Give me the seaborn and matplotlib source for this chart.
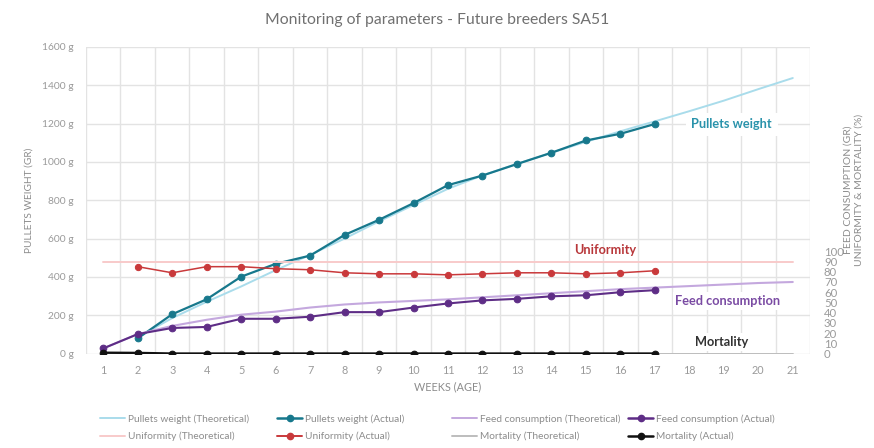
import numpy as np
import matplotlib
matplotlib.use("Agg")
import matplotlib.pyplot as plt
from matplotlib.lines import Line2D
import seaborn as sns

# ---------------------------------------------------------------
# Data
# ---------------------------------------------------------------
weeks_all = list(range(1, 22))
weeks_pullets = list(range(2, 22))
weeks_actual_pullets = list(range(2, 18))
weeks_actual = list(range(1, 18))
weeks_uniformity = list(range(2, 18))

pullets_theoretical = [85, 185, 270, 350, 435, 515, 600, 690, 775, 860, 930, 990,
                       1048, 1105, 1160, 1212, 1265, 1320, 1380, 1438]
pullets_actual = [79, 205, 283, 401, 468, 511, 619, 698, 785, 879, 929, 989,
                  1048, 1112, 1147, 1198]

uniformity_theoretical = [90] * 21
uniformity_actual = [85, 79, 85, 85, 83, 82, 79, 78, 78, 77, 78, 79, 79, 78, 79, 81]

feed_theoretical = [5, 19, 27, 33, 38, 41, 45, 48, 50, 51.5, 53, 55, 57, 59, 61,
                    63, 64.5, 66, 67.5, 69, 70]
feed_actual = [5, 19, 25, 26, 34, 34, 36, 40.5, 40.5, 45, 49, 52, 53.5, 56, 57,
               60, 62]

mortality_theoretical = [0] * 21
mortality_actual = [0.8, 0.6] + [0] * 15

weight_ticks = list(range(0, 1601, 200))
pct_ticks = list(range(0, 101, 10))

# colours
c_pul_t, c_pul_a = "#a9dceb", "#17788c"
c_uni_t, c_uni_a = "#f8caca", "#c9393b"
c_feed_t, c_feed_a = "#c4a8de", "#5e2d86"
c_mor_t, c_mor_a = "#bdbdbd", "#111111"
grey_txt = "#9a9a9a"

sns.set_style("white")
plt.rcParams["font.family"] = ["Lato", "DejaVu Sans"]

fig = plt.figure(figsize=(8.74, 4.48), dpi=100)
ax = fig.add_axes([0.0984, 0.2109, 0.8284, 0.6842])
ax2 = ax.twinx()

ms = 4.8

# --- pullets weight on the left axis
sns.lineplot(x=weeks_pullets, y=pullets_theoretical, ax=ax, color=c_pul_t,
             linewidth=1.4, zorder=3)
sns.lineplot(x=weeks_actual_pullets, y=pullets_actual, ax=ax, color=c_pul_a,
             linewidth=1.6, marker="o", markersize=ms, markeredgecolor=c_pul_a,
             zorder=4)

# --- the rest on the right axis
sns.lineplot(x=weeks_all, y=uniformity_theoretical, ax=ax2, color=c_uni_t,
             linewidth=1.4)
sns.lineplot(x=weeks_uniformity, y=uniformity_actual, ax=ax2, color=c_uni_a,
             linewidth=1.1, marker="o", markersize=4.5, markeredgecolor=c_uni_a)
sns.lineplot(x=weeks_all, y=feed_theoretical, ax=ax2, color=c_feed_t,
             linewidth=1.5)
sns.lineplot(x=weeks_actual, y=feed_actual, ax=ax2, color=c_feed_a,
             linewidth=1.5, marker="o", markersize=ms, markeredgecolor=c_feed_a)
sns.lineplot(x=weeks_all, y=mortality_theoretical, ax=ax2, color=c_mor_t,
             linewidth=1.4)
sns.lineplot(x=weeks_actual, y=mortality_actual, ax=ax2, color=c_mor_a,
             linewidth=1.7, marker="o", markersize=ms, markeredgecolor=c_mor_a)

# --- axes setup
ax.set_xlim(0.5, 21.5)
ax.set_ylim(0, 1600)
ax.set_yticks(weight_ticks)
ax.set_yticklabels([f"{v} g" for v in weight_ticks])
ax.set_xticks(weeks_all)
ax.set_xticks(np.arange(0.5, 22, 1), minor=True)
ax.grid(axis="y", which="major", color="#e3e3e3", linewidth=1)
ax.grid(axis="x", which="minor", color="#e3e3e3", linewidth=1)
ax.grid(axis="x", which="major", visible=False)
ax.tick_params(axis="both", which="both", length=0, colors=grey_txt, labelsize=7.8)
ax.tick_params(axis="y", pad=9, labelsize=7.4)
ax.tick_params(axis="x", pad=8)

ax2.set_ylim(0, 300)
ax2.set_yticks(pct_ticks)
ax2.tick_params(axis="y", length=0, colors=grey_txt, labelsize=8.2, pad=10)
ax2.grid(False)

for a in (ax, ax2):
    for s in a.spines.values():
        s.set_visible(False)

ax.set_xlabel("WEEKS (AGE)", color="#8c8c8c", fontsize=7.8, labelpad=4)
ax.set_ylabel("PULLETS WEIGHT (GR)", color="#8c8c8c", fontsize=7.3, labelpad=6)
ax2.set_ylabel("")
fig.text(0.977, 0.576, "FEED CONSUMPTION (GR)\nUNIFORMITY & MORTALITY (%)",
         rotation=90, ha="center", va="center", multialignment="center",
         color="#8c8c8c", fontsize=7.5, linespacing=1.3)

fig.suptitle("Monitoring of parameters - Future breeders SA51", x=0.5, y=0.972,
             fontsize=11.3, color="#707070")

# --- in-chart labels
ax.text(19.23, 1198, "Pullets weight", color="#2a93ab", fontsize=9.2,
        fontweight="bold", ha="center", va="center", zorder=5,
        bbox=dict(facecolor="white", edgecolor="none", pad=4))
ax2.text(15.55, 101, "Uniformity", color="#b8373a", fontsize=9.2,
         fontweight="bold", ha="center", va="center")
ax2.text(19.12, 51.6, "Feed consumption", color="#7a4ba3", fontsize=9.2,
         fontweight="bold", ha="center", va="center",
         bbox=dict(facecolor="white", edgecolor="none", pad=2))
ax2.text(18.94, 11.2, "Mortality", color="#333333", fontsize=9.2,
         fontweight="bold", ha="center", va="center",
         bbox=dict(facecolor="white", edgecolor="none", pad=2))

# --- legend: one small legend per column so the columns sit evenly
def h(c, lw, marker=None):
    return Line2D([], [], color=c, linewidth=lw, marker=marker, markersize=4.5)

legend_cols = [
    ([h(c_pul_t, 1.4), h(c_uni_t, 1.4)],
     ["Pullets weight (Theoretical)", "Uniformity (Theoretical)"], 100),
    ([h(c_pul_a, 1.8, "o"), h(c_uni_a, 1.4, "o")],
     ["Pullets weight (Actual)", "Uniformity (Actual)"], 277),
    ([h(c_feed_t, 1.4), h(c_mor_t, 1.4)],
     ["Feed consumption (Theoretical)", "Mortality (Theoretical)"], 452),
    ([h(c_feed_a, 1.8, "o"), h(c_mor_a, 1.8, "o")],
     ["Feed consumption (Actual)", "Mortality (Actual)"], 628),
]
for hs, ls, xpix in legend_cols:
    fig.legend(hs, ls, loc="center left", bbox_to_anchor=(xpix / 874, 0.045),
               frameon=False, fontsize=7.3, handlelength=2.5, handletextpad=0.3,
               labelspacing=0.75, borderaxespad=0, borderpad=0,
               labelcolor="#8c8c8c")

fig.savefig("out.png", dpi=100)
